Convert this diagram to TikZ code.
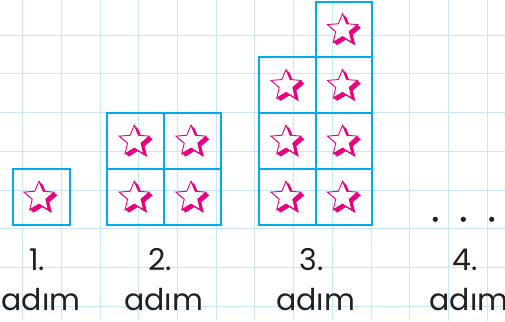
\documentclass[tikz,border=0pt]{standalone}
\usepackage{fontspec}
\setmainfont{Poppins}
\definecolor{gridc}{RGB}{200,232,250}
\definecolor{boxc}{RGB}{0,172,236}
\definecolor{starc}{RGB}{232,0,128}
\definecolor{txtc}{RGB}{35,31,32}
\tikzset{
  cellbox/.style={draw=boxc,line width=2.2pt},
  stepnum/.style={font=\fontsize{30}{30}\selectfont,text=txtc,inner sep=0pt,anchor=base},
  dotc/.style={fill=txtc,draw=none}
}
\newcommand{\starpath}[2]{(#1,#2) +(-90:15.8) -- +(-54:7.1) -- +(-18:15.8) -- +(18:7.1) -- +(54:15.8) -- +(90:7.1) -- +(126:15.8) -- +(162:7.1) -- +(198:15.8) -- +(234:7.1) -- cycle}
\newcommand{\mystar}[2]{%
  \foreach \d in {0.5,1.0,1.5,2.0,2.5,3.0,3.5}{\fill[starc] \starpath{#1+\d}{#2+0.85*\d};}
  \filldraw[fill=white,draw=starc,line width=0.9pt,line join=miter] \starpath{#1}{#2};
}
\begin{document}
\begin{tikzpicture}[x=1pt,y=-1pt]
\useasboundingbox (0,0) rectangle (505,321);
\fill[white] (0,0) rectangle (505,321);
% grid
\foreach \i in {0,...,12}{\draw[gridc,line width=0.9pt] ({22.7+38.7*\i},0) -- ({22.7+38.7*\i},321);}
\foreach \j in {0,...,7}{\draw[gridc,line width=0.9pt] (0,{35.2+38.7*\j}) -- (505,{35.2+38.7*\j});}
% step 1
\draw[cellbox] (13.3,169) rectangle (70,225);
% step 2
\draw[cellbox] (107.3,113) rectangle (220.7,225);
\draw[cellbox] (164.3,113) -- (164.3,225);
\draw[cellbox] (107.3,169) -- (220.7,169);
% step 3
\draw[cellbox] (259,57.3) rectangle (316,225);
\draw[cellbox] (316,1.7) rectangle (372.3,225);
\foreach \y in {113,169}{\draw[cellbox] (259,\y) -- (372.3,\y);}
\draw[cellbox] (259,57.3) -- (372.3,57.3);
% stars
\mystar{39}{197}
\foreach \x in {134.3,191}{\foreach \y in {141,197}{\mystar{\x}{\y}}}
\foreach \y in {85.3,141,197}{\mystar{286}{\y}}
\foreach \y in {29.5,85.3,141,197}{\mystar{342.5}{\y}}
% dots
\foreach \x in {435.3,463.3,491.7}{\fill[dotc] (\x,219.3) circle (2.6);}
% labels
\node[stepnum] (n1) at (37,270) {1.};
\node[stepnum] (a1) at (41,310) {adım};
\node[stepnum] (n2) at (160,270) {2.};
\node[stepnum] (a2) at (163.5,310) {adım};
\node[stepnum] (n3) at (311.5,270) {3.};
\node[stepnum] (a3) at (315.5,310) {adım};
\node[stepnum] (n4) at (465,270) {4.};
\node[stepnum] (a4) at (469,310) {adım};
\end{tikzpicture}
\end{document}
